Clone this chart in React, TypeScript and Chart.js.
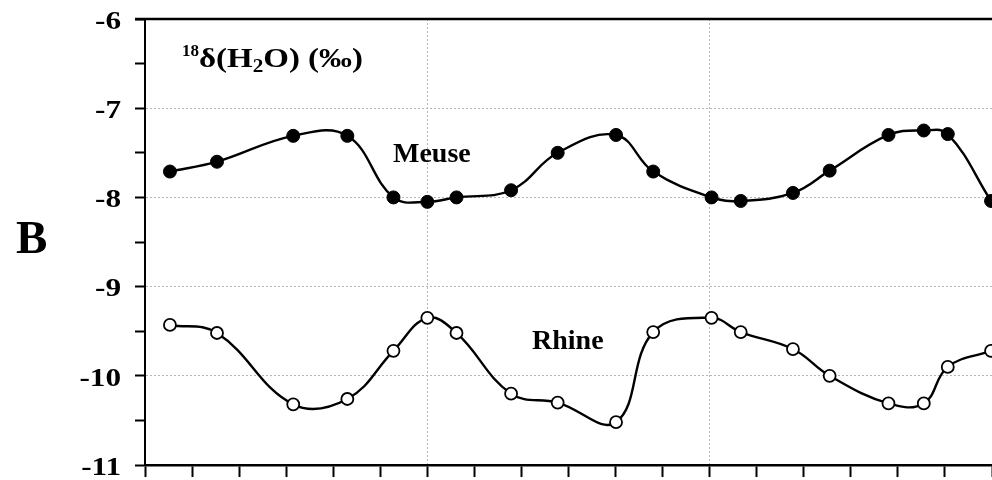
import { useEffect, useRef } from 'react';
import { Chart, registerables } from 'chart.js';

Chart.register(...registerables);

// Sampling times (months from start of record) shared by both rivers
const months = [0.53, 1.53, 3.15, 4.3, 5.28, 6.0, 6.62, 7.78, 8.77, 10.01, 10.8, 12.04, 12.66, 13.77, 14.55, 15.8, 16.55, 17.06, 17.98];
// δ18O of river water (‰)
const meuse = [-7.71, -7.6, -7.31, -7.31, -8.0, -8.05, -8.0, -7.92, -7.5, -7.3, -7.71, -8.0, -8.04, -7.95, -7.7, -7.3, -7.25, -7.29, -8.04];
const rhine = [-9.43, -9.52, -10.32, -10.26, -9.72, -9.35, -9.52, -10.2, -10.3, -10.52, -9.51, -9.35, -9.51, -9.7, -10.0, -10.31, -10.31, -9.9, -9.72];
const yTickLabels = [-11, -10, -9, -8, -7, -6];
const xGridMonths = [6, 12];

const SERIF = '"Liberation Serif", "Times New Roman", serif';

function stretchedText(
  ctx: CanvasRenderingContext2D,
  text: string,
  x: number,
  y: number,
  font: string,
  sx: number,
  align: CanvasTextAlign,
  baseline: CanvasTextBaseline = 'alphabetic'
) {
  ctx.save();
  ctx.font = font;
  ctx.textAlign = align;
  ctx.textBaseline = baseline;
  ctx.fillStyle = '#000';
  ctx.translate(x, y);
  ctx.scale(sx, 1);
  ctx.fillText(text, 0, 0);
  ctx.restore();
}

const annotations = {
  id: 'annotations',
  afterDraw(chart: any) {
    const ctx: CanvasRenderingContext2D = chart.ctx;
    const area = chart.chartArea;
    const yScale = chart.scales.y;

    // top frame line
    ctx.save();
    ctx.strokeStyle = '#000';
    ctx.lineWidth = 2.5;
    ctx.beginPath();
    ctx.moveTo(area.left - 10, area.top);
    ctx.lineTo(area.right + 2, area.top);
    ctx.stroke();
    ctx.restore();

    // y tick labels
    for (const v of yTickLabels) {
      const py = yScale.getPixelForValue(v);
      stretchedText(ctx, String(v), 121, py + 3, `bold 26px ${SERIF}`, 1.2, 'right', 'middle');
    }

    // panel letter
    stretchedText(ctx, 'B', 16, 253, `bold 47px ${SERIF}`, 1, 'left');

    // quantity label with super/subscripts
    ctx.save();
    ctx.fillStyle = '#000';
    ctx.textBaseline = 'alphabetic';
    ctx.textAlign = 'left';
    ctx.font = `bold 17px ${SERIF}`;
    ctx.fillText('18', 182, 56);
    const big = `bold 28px ${SERIF}`;
    const small = `bold 18px ${SERIF}`;
    const parts: [string, string, number][] = [
      ['δ(H', big, 0],
      ['2', small, 5],
      ['O) (‰)', big, 0],
    ];
    let total = 0;
    for (const [t, f] of parts) {
      ctx.font = f;
      total += ctx.measureText(t).width;
    }
    const sx = 164 / total;
    ctx.translate(199, 67);
    ctx.scale(sx, 1);
    let cx = 0;
    for (const [t, f, dy] of parts) {
      ctx.font = f;
      ctx.fillText(t, cx, dy);
      cx += ctx.measureText(t).width;
    }
    ctx.restore();

    // series names
    stretchedText(ctx, 'Meuse', 393, 162, `bold 28px ${SERIF}`, 1, 'left');
    stretchedText(ctx, 'Rhine', 532, 349, `bold 28px ${SERIF}`, 1, 'left');
  },
};

export default function App() {
  const canvasRef = useRef<HTMLCanvasElement | null>(null);

  useEffect(() => {
    const canvas = canvasRef.current;
    if (!canvas) return;
    const chart = new Chart(canvas, {
      type: 'line',
      data: {
        datasets: [
          {
            label: 'Meuse',
            data: months.map((m, i) => ({ x: m, y: meuse[i] })),
            borderColor: '#000',
            borderWidth: 2.4,
            tension: 0.4,
            pointRadius: 6.5,
            pointBackgroundColor: '#000',
            pointBorderColor: '#000',
            pointBorderWidth: 1,
          },
          {
            label: 'Rhine',
            data: months.map((m, i) => ({ x: m, y: rhine[i] })),
            borderColor: '#000',
            borderWidth: 2.4,
            tension: 0.4,
            pointRadius: 6,
            pointBackgroundColor: '#fff',
            pointBorderColor: '#000',
            pointBorderWidth: 1.8,
          },
        ],
      },
      options: {
        responsive: false,
        animation: false,
        devicePixelRatio: 1,
        layout: { autoPadding: false, padding: { top: 19, left: 0, right: 0, bottom: 0 } },
        plugins: {
          legend: { display: false },
          tooltip: { enabled: false },
          title: { display: false },
        },
        scales: {
          x: {
            type: 'linear',
            min: 0,
            max: 18,
            afterFit: (s: any) => {
              s.height = 15;
            },
            ticks: { stepSize: 1, display: false },
            grid: {
              drawTicks: true,
              tickLength: 12,
              tickWidth: 2,
              tickColor: '#000',
              lineWidth: 1,
              color: (c: any) =>
                c.tick && xGridMonths.includes(c.tick.value) ? '#b5b5b5' : 'rgba(0,0,0,0)',
            },
            border: { display: true, color: '#000', width: 2.5, dash: [2, 2] },
          },
          y: {
            type: 'linear',
            min: -11,
            max: -6,
            afterFit: (s: any) => {
              s.width = 145;
            },
            ticks: { stepSize: 0.5, display: false },
            grid: {
              drawTicks: true,
              tickLength: 10,
              tickWidth: 2,
              tickColor: '#000',
              lineWidth: 1,
              color: (c: any) => {
                const v = c.tick ? c.tick.value : 0;
                return Number.isInteger(v) && v > -11 && v < -6 ? '#b5b5b5' : 'rgba(0,0,0,0)';
              },
            },
            border: { display: true, color: '#000', width: 2, dash: [2, 2] },
          },
        },
      },
      plugins: [annotations],
    });
    return () => chart.destroy();
  }, []);

  return (
    <div style={{ position: 'absolute', left: 0, top: 0, width: 992, height: 480, background: '#fff' }}>
      <canvas ref={canvasRef} width={992} height={480} />
    </div>
  );
}
